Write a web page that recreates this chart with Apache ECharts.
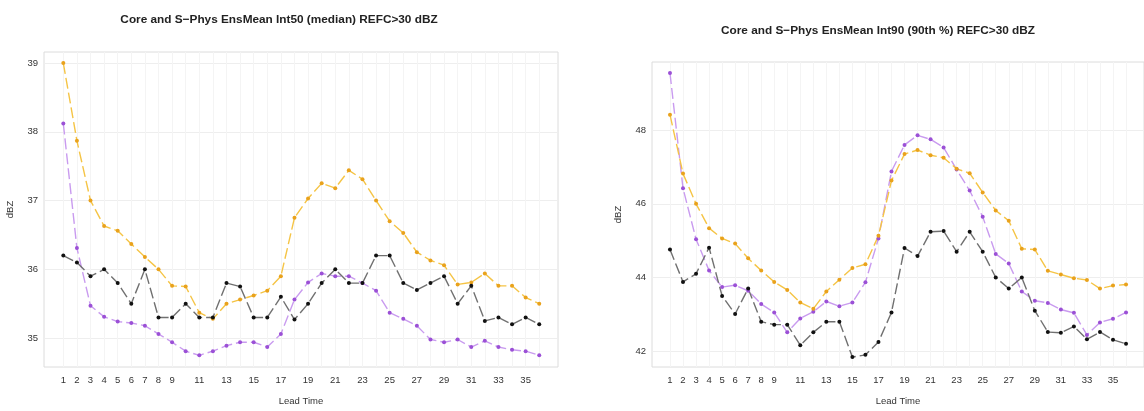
<!DOCTYPE html>
<html>
<head>
<meta charset="utf-8">
<script src="https://cdn.jsdelivr.net/npm/echarts@6/dist/echarts.min.js"></script>
<style>
  html, body { margin: 0; padding: 0; background: #fff; }
  #chart { width: 1144px; height: 411px; }
</style>
</head>
<body>
<div id="chart"></div>
<script>
// lead times 1..36
const leadTimes = [1,2,3,4,5,6,7,8,9,10,11,12,13,14,15,16,17,18,19,20,21,22,23,24,25,26,27,28,29,30,31,32,33,34,35,36]
const xTickLabels = [1,2,3,4,5,6,7,8,9,11,13,15,17,19,21,23,25,27,29,31,33,35]

// Int50 (median)
const int50Orange = [39.0,37.87,37.0,36.63,36.56,36.37,36.18,36.0,35.76,35.75,35.37,35.28,35.5,35.56,35.62,35.69,35.9,36.75,37.03,37.25,37.18,37.44,37.31,37.0,36.7,36.53,36.25,36.13,36.06,35.78,35.81,35.94,35.76,35.76,35.59,35.5]
const int50Purple = [38.12,36.31,35.47,35.31,35.24,35.22,35.18,35.06,34.94,34.81,34.75,34.81,34.89,34.94,34.94,34.87,35.06,35.56,35.81,35.94,35.9,35.9,35.8,35.69,35.37,35.28,35.18,34.98,34.94,34.98,34.87,34.96,34.87,34.83,34.81,34.75]
const int50Black = [36.2,36.1,35.9,36.0,35.8,35.5,36.0,35.3,35.3,35.5,35.3,35.3,35.8,35.75,35.3,35.3,35.6,35.27,35.5,35.8,36.0,35.8,35.8,36.2,36.2,35.8,35.7,35.8,35.9,35.5,35.76,35.25,35.3,35.2,35.3,35.2]
const int50YTicks = [35,36,37,38,39]

// Int90 (90th %)
const int90Orange = [48.42,46.82,46.0,45.34,45.06,44.92,44.52,44.19,43.88,43.66,43.32,43.15,43.62,43.94,44.26,44.36,45.13,46.63,47.35,47.46,47.32,47.25,46.95,46.83,46.31,45.82,45.54,44.78,44.76,44.18,44.08,43.98,43.93,43.7,43.78,43.81]
const int90Purple = [49.55,46.42,45.04,44.19,43.74,43.79,43.64,43.28,43.05,42.51,42.89,43.07,43.35,43.22,43.32,43.87,45.06,46.88,47.6,47.86,47.75,47.53,46.93,46.36,45.65,44.64,44.38,43.62,43.37,43.31,43.13,43.04,42.44,42.78,42.88,43.05]
const int90Black = [44.76,43.88,44.1,44.81,43.5,43.01,43.7,42.8,42.72,42.72,42.16,42.51,42.8,42.8,41.84,41.9,42.25,43.05,44.8,44.58,45.24,45.26,44.7,45.24,44.7,44.0,43.7,44.0,43.1,42.52,42.5,42.67,42.32,42.52,42.31,42.2]
const int90YTicks = [42,44,46,48]

const pair = (ys) => leadTimes.map((t, i) => [t, ys[i]])

const lineSeries = (ys, lineColor, dotColor, idx) => ({
  type: 'line',
  xAxisIndex: idx,
  yAxisIndex: idx,
  data: pair(ys),
  symbol: 'circle',
  symbolSize: 4,
  showSymbol: true,
  itemStyle: { color: dotColor },
  lineStyle: { color: lineColor, width: 1.4, type: [11, 4] },
  animation: false
})

const xAxisFor = (idx, min, max) => ({
  type: 'value',
  gridIndex: idx,
  min: min,
  max: max,
  name: 'Lead Time',
  nameLocation: 'middle',
  nameGap: 29,
  nameTextStyle: { fontSize: 9.5, color: '#333' },
  axisLine: { show: false },
  axisTick: { show: false, customValues: leadTimes },
  axisLabel: { customValues: xTickLabels, fontSize: 9.5, color: '#333', margin: 8 },
  splitLine: { show: true, lineStyle: { color: '#f4f4f4', width: 1 } }
})

const yAxisFor = (idx, min, max, ticks) => ({
  type: 'value',
  gridIndex: idx,
  min: min,
  max: max,
  name: 'dBZ',
  nameLocation: 'middle',
  nameRotate: 90,
  nameGap: 29,
  nameTextStyle: { fontSize: 9.5, color: '#333' },
  axisLine: { show: false },
  axisTick: { show: false, customValues: ticks },
  axisLabel: { customValues: ticks, fontSize: 9.5, color: '#333', margin: 6 },
  splitLine: { show: true, lineStyle: { color: '#eeeeee', width: 1 } }
})

const chart = echarts.init(document.getElementById('chart'))
chart.setOption({
  backgroundColor: '#fff',
  textStyle: { fontFamily: 'Liberation Sans, Arial, sans-serif' },
  title: [
    { text: 'Core and S\u2212Phys EnsMean Int50 (median) REFC>30 dBZ', left: 274, top: 9, textAlign: 'center',
      textStyle: { fontSize: 11.8, fontWeight: 'bold', color: '#222' } },
    { text: 'Core and S\u2212Phys EnsMean Int90 (90th %) REFC>30 dBZ', left: 873, top: 20, textAlign: 'center',
      textStyle: { fontSize: 11.8, fontWeight: 'bold', color: '#222' } }
  ],
  grid: [
    { left: 44, top: 52, right: 586, bottom: 37, show: true, borderColor: '#dcdcdc', borderWidth: 1 },
    { left: 652, top: 62, right: -9, bottom: 35, show: true, borderColor: '#dcdcdc', borderWidth: 1 }
  ],
  xAxis: [xAxisFor(0, -0.42, 37.38), xAxisFor(1, -0.38, 37.38)],
  yAxis: [yAxisFor(0, 34.58, 39.16, int50YTicks), yAxisFor(1, 41.57, 49.85, int90YTicks)],
  series: [
    lineSeries(int50Purple, '#c99bef', '#9b50d6', 0),
    lineSeries(int50Orange, '#f5c445', '#e9a21c', 0),
    lineSeries(int50Black, '#707070', '#111111', 0),
    lineSeries(int90Purple, '#c99bef', '#9b50d6', 1),
    lineSeries(int90Orange, '#f5c445', '#e9a21c', 1),
    lineSeries(int90Black, '#707070', '#111111', 1)
  ]
})
</script>
</body>
</html>
